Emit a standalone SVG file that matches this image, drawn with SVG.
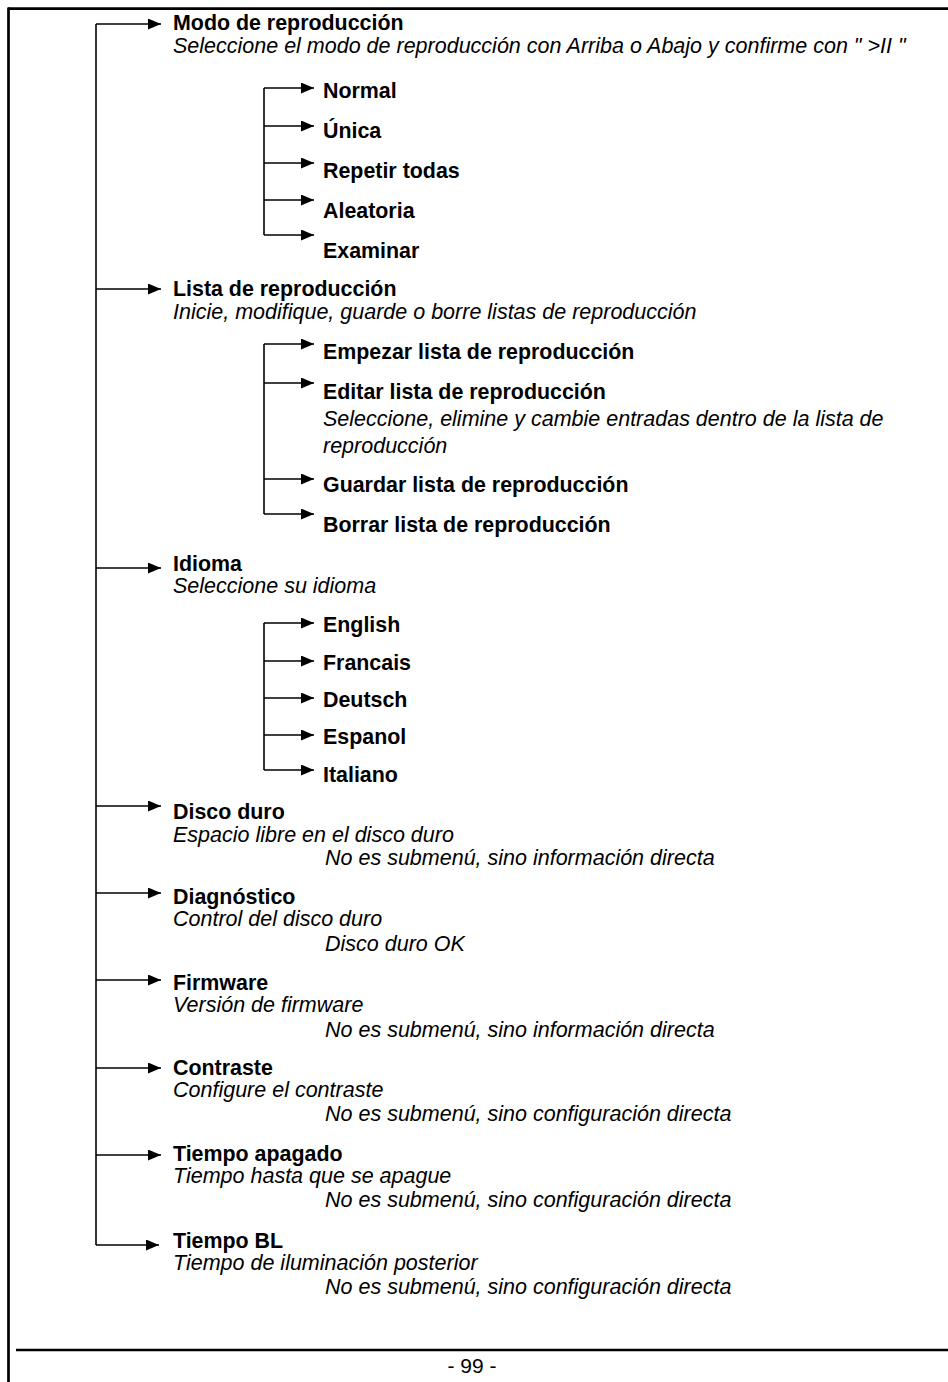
<svg xmlns="http://www.w3.org/2000/svg" width="948" height="1382" viewBox="0 0 948 1382">
<defs>
<style>
.b{font-family:"Liberation Sans",Arial,sans-serif;font-weight:bold;font-size:21.4px;fill:#000}
.i{font-family:"Liberation Sans",Arial,sans-serif;font-style:italic;font-size:21.5px;fill:#000}
.f{font-family:"Liberation Sans",Arial,sans-serif;font-size:21px;fill:#000}
.ln{stroke:#000;stroke-width:1.6;fill:none}
.fr{stroke:#000;stroke-width:2.7;fill:none}
.ar{stroke:#000;stroke-width:1.6;fill:none;marker-end:url(#ah)}
</style>
<marker id="ah" markerUnits="userSpaceOnUse" markerWidth="13" markerHeight="11" refX="13" refY="5.5" orient="auto">
<path d="M0,0 L13,5.5 L0,11 z" fill="#000"/>
</marker>
</defs>
<rect width="948" height="1382" fill="#fff"/>
<g id="frame">
<line class="fr" x1="8" y1="8.7" x2="948" y2="8.7"/>
<line class="fr" x1="8.5" y1="7.5" x2="8.5" y2="1382"/>
<line class="fr" x1="16" y1="1350" x2="948" y2="1350"/>
<text class="f" x="472" y="1373" text-anchor="middle">- 99 -</text>
</g>
<g id="connectors">
<line class="ln" x1="96" y1="24" x2="96" y2="1245"/>
<line class="ar" x1="96" y1="24" x2="161" y2="24"/>
<line class="ar" x1="96" y1="289" x2="161" y2="289"/>
<line class="ar" x1="96" y1="568" x2="161" y2="568"/>
<line class="ar" x1="96" y1="806" x2="161" y2="806"/>
<line class="ar" x1="96" y1="893" x2="161" y2="893"/>
<line class="ar" x1="96" y1="980" x2="161" y2="980"/>
<line class="ar" x1="96" y1="1068" x2="161" y2="1068"/>
<line class="ar" x1="96" y1="1155" x2="161" y2="1155"/>
<line class="ar" x1="96" y1="1245" x2="159" y2="1245"/>
<line class="ln" x1="264" y1="88" x2="264" y2="235"/>
<line class="ar" x1="264" y1="88" x2="314" y2="88"/>
<line class="ar" x1="264" y1="126" x2="314" y2="126"/>
<line class="ar" x1="264" y1="163" x2="314" y2="163"/>
<line class="ar" x1="264" y1="200" x2="314" y2="200"/>
<line class="ar" x1="264" y1="235" x2="314" y2="235"/>
<line class="ln" x1="264" y1="344" x2="264" y2="514"/>
<line class="ar" x1="264" y1="344" x2="314" y2="344"/>
<line class="ar" x1="264" y1="383" x2="314" y2="383"/>
<line class="ar" x1="264" y1="479" x2="314" y2="479"/>
<line class="ar" x1="264" y1="514" x2="314" y2="514"/>
<line class="ln" x1="264" y1="623" x2="264" y2="770"/>
<line class="ar" x1="264" y1="623" x2="314" y2="623"/>
<line class="ar" x1="264" y1="661" x2="314" y2="661"/>
<line class="ar" x1="264" y1="698" x2="314" y2="698"/>
<line class="ar" x1="264" y1="735" x2="314" y2="735"/>
<line class="ar" x1="264" y1="770" x2="314" y2="770"/>
</g>
<g id="modo">
<text class="b" x="173" y="30">Modo de reproducción</text>
<text class="i" x="173" y="53">Seleccione el modo de reproducción con Arriba o Abajo y confirme con " &gt;II "</text>
</g>
<g id="normal"><text class="b" x="323" y="98">Normal</text></g>
<g id="unica"><text class="b" x="323" y="138">Única</text></g>
<g id="repetir"><text class="b" x="323" y="178">Repetir todas</text></g>
<g id="aleatoria"><text class="b" x="323" y="218">Aleatoria</text></g>
<g id="examinar"><text class="b" x="323" y="258">Examinar</text></g>
<g id="lista">
<text class="b" x="173" y="296">Lista de reproducción</text>
<text class="i" x="173" y="319">Inicie, modifique, guarde o borre listas de reproducción</text>
</g>
<g id="empezar"><text class="b" x="323" y="359">Empezar lista de reproducción</text></g>
<g id="editar">
<text class="b" x="323" y="399">Editar lista de reproducción</text>
<text class="i" x="323" y="426">Seleccione, elimine y cambie entradas dentro de la lista de</text>
<text class="i" x="323" y="453">reproducción</text>
</g>
<g id="guardar"><text class="b" x="323" y="492">Guardar lista de reproducción</text></g>
<g id="borrar"><text class="b" x="323" y="532">Borrar lista de reproducción</text></g>
<g id="idioma">
<text class="b" x="173" y="571">Idioma</text>
<text class="i" x="173" y="593">Seleccione su idioma</text>
</g>
<g id="english"><text class="b" x="323" y="632">English</text></g>
<g id="francais"><text class="b" x="323" y="670">Francais</text></g>
<g id="deutsch"><text class="b" x="323" y="707">Deutsch</text></g>
<g id="espanol"><text class="b" x="323" y="744">Espanol</text></g>
<g id="italiano"><text class="b" x="323" y="782">Italiano</text></g>
<g id="disco">
<text class="b" x="173" y="819">Disco duro</text>
<text class="i" x="173" y="842">Espacio libre en el disco duro</text>
<text class="i" x="325" y="865">No es submenú, sino información directa</text>
</g>
<g id="diagnostico">
<text class="b" x="173" y="904">Diagnóstico</text>
<text class="i" x="173" y="926">Control del disco duro</text>
<text class="i" x="325" y="951">Disco duro OK</text>
</g>
<g id="firmware">
<text class="b" x="173" y="990">Firmware</text>
<text class="i" x="173" y="1012">Versión de firmware</text>
<text class="i" x="325" y="1037">No es submenú, sino información directa</text>
</g>
<g id="contraste">
<text class="b" x="173" y="1075">Contraste</text>
<text class="i" x="173" y="1097">Configure el contraste</text>
<text class="i" x="325" y="1121">No es submenú, sino configuración directa</text>
</g>
<g id="apagado">
<text class="b" x="173" y="1161">Tiempo apagado</text>
<text class="i" x="173" y="1183">Tiempo hasta que se apague</text>
<text class="i" x="325" y="1207">No es submenú, sino configuración directa</text>
</g>
<g id="bl">
<text class="b" x="173" y="1248">Tiempo BL</text>
<text class="i" x="173" y="1270">Tiempo de iluminación posterior</text>
<text class="i" x="325" y="1294">No es submenú, sino configuración directa</text>
</g>
</svg>
